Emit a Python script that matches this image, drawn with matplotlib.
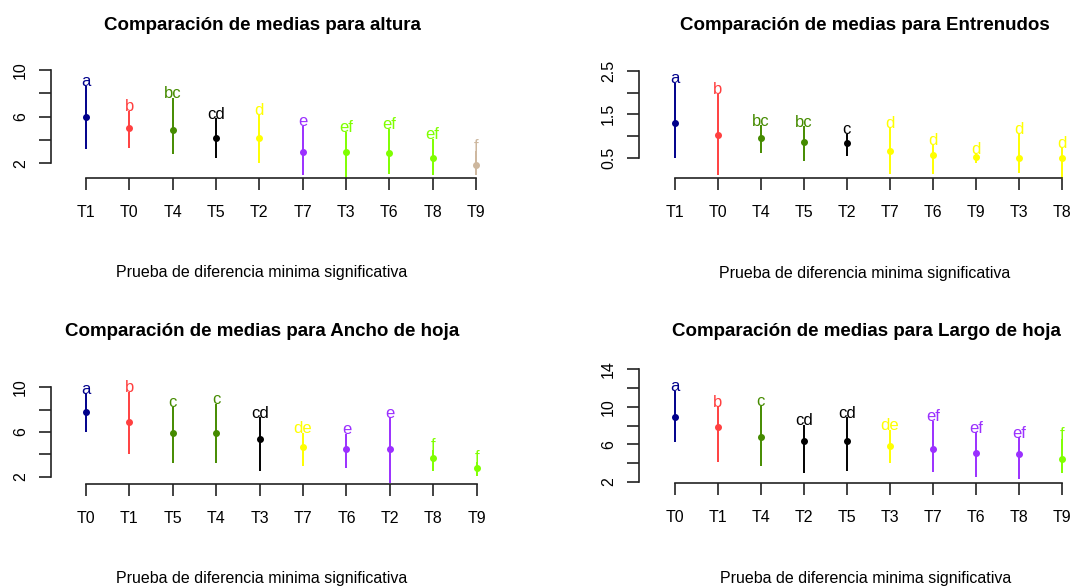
import matplotlib.pyplot as plt
import numpy as np

plt.rcParams['font.family'] = ['Liberation Sans', 'DejaVu Sans']

# altura
alt_trt = ['T1', 'T0', 'T4', 'T5', 'T2', 'T7', 'T3', 'T6', 'T8', 'T9']
alt_mean = [5.96, 5.04, 4.85, 4.16, 4.16, 2.94, 2.94, 2.85, 2.43, 1.85]
alt_low = [3.20, 3.28, 2.77, 2.43, 2.00, 0.97, 0.77, 1.11, 0.97, 0.97]
alt_high = [8.63, 6.50, 7.58, 5.85, 6.13, 5.21, 4.70, 4.93, 4.08, 3.08]
alt_grp = ['a', 'b', 'bc', 'cd', 'd', 'e', 'ef', 'ef', 'ef', 'f']

# Entrenudos
ent_trt = ['T1', 'T0', 'T4', 'T5', 'T2', 'T7', 'T6', 'T9', 'T3', 'T8']
ent_mean = [1.29, 1.02, 0.96, 0.87, 0.83, 0.66, 0.56, 0.52, 0.49, 0.49]
ent_low = [0.49, 0.10, 0.60, 0.42, 0.54, 0.12, 0.12, 0.37, 0.15, 0.02]
ent_high = [2.22, 1.97, 1.25, 1.22, 1.05, 1.20, 0.80, 0.60, 1.05, 0.72]
ent_grp = ['a', 'b', 'bc', 'bc', 'c', 'd', 'd', 'd', 'd', 'd']

# Ancho de hoja
anc_trt = ['T0', 'T1', 'T5', 'T4', 'T3', 'T7', 'T6', 'T2', 'T8', 'T9']
anc_mean = [7.76, 6.92, 5.88, 5.88, 5.35, 4.69, 4.48, 4.48, 3.70, 2.75]
anc_low = [6.03, 4.03, 3.20, 3.20, 2.54, 2.96, 2.75, 1.40, 2.51, 2.09]
anc_high = [9.47, 9.61, 8.27, 8.51, 7.32, 5.91, 5.82, 7.32, 4.39, 3.34]
anc_grp = ['a', 'b', 'c', 'c', 'cd', 'de', 'e', 'e', 'f', 'f']

# Largo de hoja
lar_trt = ['T0', 'T1', 'T4', 'T2', 'T5', 'T3', 'T7', 'T6', 'T8', 'T9']
lar_mean = [8.94, 7.84, 6.74, 6.34, 6.34, 5.78, 5.52, 5.09, 4.96, 4.42]
lar_low = [6.20, 4.13, 3.71, 2.90, 3.17, 4.03, 3.07, 2.47, 2.26, 2.90]
lar_high = [11.71, 10.04, 10.11, 8.05, 8.87, 7.52, 8.51, 7.27, 6.74, 6.56]
lar_grp = ['a', 'b', 'c', 'cd', 'cd', 'de', 'ef', 'ef', 'ef', 'f']

# one colour per letter group, in order of appearance
palette = ['#00008B', '#FF4040', '#458B00', '#000000', '#FFFF00',
           '#9B30FF', '#7FFF00', '#CDB79E']

W, H = 1088, 586


def group_colors(groups, order):
    return [palette[order.index(g)] for g in groups]


def draw_panel(fig, box, xref, yref, yticks, ylabels, trt, mean, low, high,
               grp, cols, title, center):
    left, right, top, bottom = box
    ax = fig.add_axes([left / W, 1 - bottom / H, (right - left) / W,
                       (bottom - top) / H])
    n = len(trt)
    x1, xn = xref
    sx = (xn - x1) / (n - 1)
    ax.set_xlim(1 + (left - x1) / sx, 1 + (right - x1) / sx)
    (v0, p0), (v1, p1) = yref
    sy = (p0 - p1) / (v1 - v0)
    ax.set_ylim(v0 - (bottom - p0) / sy, v0 + (p0 - top) / sy)

    x = np.arange(1, n + 1)
    for i in range(n):
        ax.vlines(x[i], low[i], high[i], color=cols[i], lw=1.4, clip_on=False)
        ax.plot(x[i], mean[i], 'o', ms=4, color=cols[i], clip_on=False)
        ax.annotate(grp[i], (x[i], high[i]), xytext=(0, 3),
                    textcoords='offset points', ha='center', va='center',
                    color=cols[i], fontsize=12)

    for s in ['top', 'right']:
        ax.spines[s].set_visible(False)
    ax.spines['left'].set_bounds(yticks[0], yticks[-1])
    ax.spines['bottom'].set_bounds(1, n)
    for s in ['left', 'bottom']:
        ax.spines[s].set_linewidth(1.2)
        ax.spines[s].set_color('#222222')
    ax.set_xticks(x)
    ax.set_xticklabels(trt)
    ax.set_yticks(yticks)
    ax.set_yticklabels(ylabels, rotation=90, va='center')
    ax.tick_params(length=8.5, width=1.2, color='#222222', labelsize=11.5)
    ax.tick_params(axis='x', pad=11)
    ax.tick_params(axis='y', pad=8)
    ax.set_facecolor('none')

    fig.text(center / W, 1 - (top - 35) / H, title, ha='center',
             va='center', fontsize=13.5, fontweight='bold')
    fig.text(center / W, 1 - (bottom + 95) / H,
             'Prueba de diferencia minima significativa', ha='center',
             va='center', fontsize=11.5)
    return ax


fig = plt.figure(figsize=(W / 100, H / 100), dpi=100)

draw_panel(fig, (51, 492, 60, 178), (86, 476), ((2, 163.3), (10, 69.7)),
           [2, 4, 6, 8, 10], ['2', '', '6', '', '10'],
           alt_trt, alt_mean, alt_low, alt_high, alt_grp,
           group_colors(alt_grp, ['a', 'b', 'bc', 'cd', 'd', 'e', 'ef', 'f']),
           'Comparación de medias para altura', 262)

draw_panel(fig, (639, 1078, 60, 178.3), (674.7, 1061.7),
           ((0.5, 157.7), (2.5, 71)),
           [0.5, 1.0, 1.5, 2.0, 2.5], ['0.5', '', '1.5', '', '2.5'],
           ent_trt, ent_mean, ent_low, ent_high, ent_grp,
           [palette[i] for i in [0, 1, 2, 2, 3, 4, 4, 4, 4, 4]],
           'Comparación de medias para Entrenudos', 865)

draw_panel(fig, (50.7, 492, 366, 484), (86, 476.7), ((2, 476.7), (10, 387.3)),
           [2, 4, 6, 8, 10], ['2', '', '6', '', '10'],
           anc_trt, anc_mean, anc_low, anc_high, anc_grp,
           [palette[i] for i in [0, 1, 2, 2, 3, 4, 5, 5, 6, 6]],
           'Comparación de medias para Ancho de hoja', 262)

draw_panel(fig, (639, 1078, 366, 483.3), (674.7, 1061.7),
           ((2, 481.7), (14, 369.3)),
           [2, 4, 6, 8, 10, 12, 14], ['2', '', '6', '', '10', '', '14'],
           lar_trt, lar_mean, lar_low, lar_high, lar_grp,
           [palette[i] for i in [0, 1, 2, 3, 3, 4, 5, 5, 5, 6]],
           'Comparación de medias para Largo de hoja', 866)

fig.savefig('out.png', dpi=100)
